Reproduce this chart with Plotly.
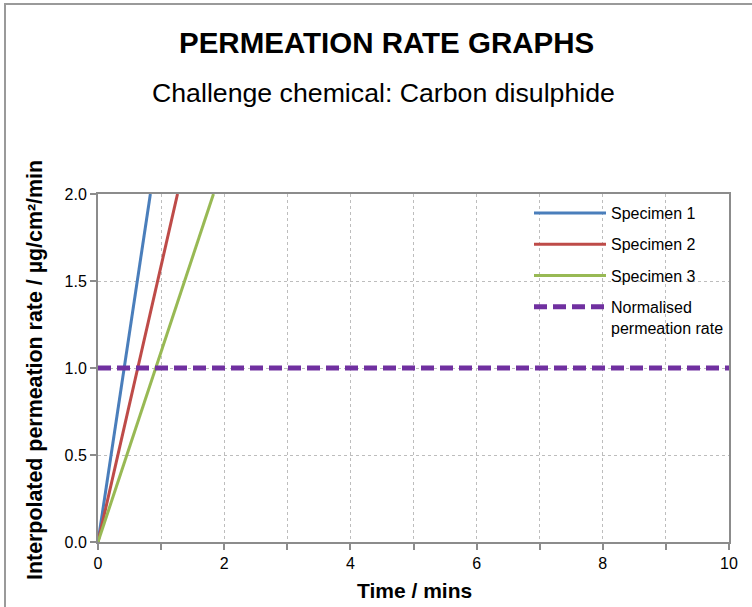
import plotly.graph_objects as go

# ---- data ----
series_names = ["Specimen 1", "Specimen 2", "Specimen 3"]
series_x = [[0, 0.83], [0, 1.26], [0, 1.83]]
series_y = [[0, 2.0], [0, 2.0], [0, 2.0]]
series_colors = ["#4A7EBB", "#BE4B48", "#98B954"]
norm_name = "Normalised<br>permeation rate"
norm_x = [0, 10]
norm_y = [1.0, 1.0]
x_tick_vals = [0, 1, 2, 3, 4, 5, 6, 7, 8, 9, 10]
x_tick_text = ["0", "", "2", "", "4", "", "6", "", "8", "", "10"]
y_tick_vals = [0.0, 0.5, 1.0, 1.5, 2.0]
y_tick_text = ["0.0", "0.5", "1.0", "1.5", "2.0"]

W, H = 752, 607
L, R, T, B = 98, 23, 194, 65
PW, PH = W - L - R, H - T - B

def px_x(px):
    return (px - L) / PW

def px_y(py):
    return (H - B - py) / PH

FONT = "Liberation Sans, Arial, sans-serif"
AXIS_COLOR = "#8C8C8C"
GRID_COLOR = "#BDBDBD"

fig = go.Figure()
for name, xs, ys, c in zip(series_names, series_x, series_y, series_colors):
    fig.add_trace(go.Scatter(x=xs, y=ys, mode="lines", name=name,
                             line=dict(color=c, width=3), legendgroup=name))
fig.add_trace(go.Scatter(x=norm_x, y=norm_y, mode="lines", name=norm_name,
                         line=dict(color="#7030A0", width=5, dash="13px,6px"),
                         legendgroup="norm"))

fig.update_layout(
    width=W, height=H,
    margin=dict(l=L, r=R, t=T, b=B, autoexpand=False),
    paper_bgcolor="white", plot_bgcolor="white",
    font=dict(family=FONT, color="#000000", size=16),
    showlegend=True,
    legend=dict(x=px_x(529), y=px_y(196), xanchor="left", yanchor="top",
                font=dict(size=16, family=FONT, color="#000000"),
                itemwidth=72, tracegroupgap=7.5, valign="top",
                bgcolor="rgba(0,0,0,0)", traceorder="grouped"),
    xaxis=dict(range=[0, 10], tickvals=x_tick_vals, ticktext=x_tick_text,
               showline=True, linecolor=AXIS_COLOR, linewidth=2, mirror=True,
               ticks="outside", ticklen=6, tickwidth=2, tickcolor=AXIS_COLOR,
               showgrid=True, gridcolor=GRID_COLOR, griddash="dot", gridwidth=1,
               zeroline=False, tickfont=dict(size=16, family=FONT)),
    yaxis=dict(range=[0, 2], tickvals=y_tick_vals, ticktext=y_tick_text,
               showline=True, linecolor=AXIS_COLOR, linewidth=2, mirror=True,
               ticks="outside", ticklen=6, tickwidth=2, tickcolor=AXIS_COLOR,
               showgrid=True, gridcolor=GRID_COLOR, griddash="dot", gridwidth=1,
               zeroline=False, tickfont=dict(size=16, family=FONT)),
)

# Titles as annotations
fig.add_annotation(text="<b>PERMEATION RATE GRAPHS</b>", xref="paper", yref="paper",
                   x=px_x(386), y=px_y(42), xanchor="center", yanchor="middle",
                   showarrow=False, font=dict(size=29.5, family=FONT, color="#000"))
fig.add_annotation(text="Challenge chemical: Carbon disulphide", xref="paper", yref="paper",
                   x=px_x(383), y=px_y(93), xanchor="center", yanchor="middle",
                   showarrow=False, font=dict(size=26.7, family=FONT, color="#000"))
fig.add_annotation(text="<b>Time / mins</b>", xref="paper", yref="paper",
                   x=px_x(414), y=px_y(590), xanchor="center", yanchor="middle",
                   showarrow=False, font=dict(size=21, family=FONT, color="#000"))
fig.add_annotation(text="<b>Interpolated permeation rate / µg/cm²/min</b>", xref="paper", yref="paper",
                   x=px_x(35), y=px_y(370), xanchor="center", yanchor="middle",
                   textangle=-90, showarrow=False, font=dict(size=21.4, family=FONT, color="#000"))

# Outer chart frame
fig.add_shape(type="rect", xref="paper", yref="paper",
              x0=px_x(5), x1=px_x(770), y0=px_y(625), y1=px_y(4),
              line=dict(color="#9A9A9A", width=2), fillcolor="rgba(0,0,0,0)", layer="below")

fig.write_html("out.html", config={"displayModeBar": False},
               post_script="document.body.style.margin='0';document.body.style.padding='0';"
                           "document.body.style.overflow='hidden';")
